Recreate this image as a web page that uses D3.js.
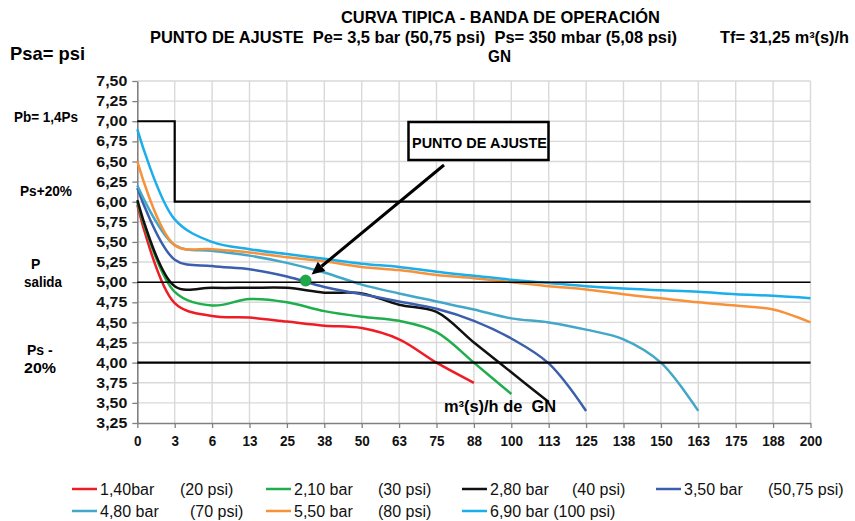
<!DOCTYPE html>
<html>
<head>
<meta charset="utf-8">
<script src="https://cdn.jsdelivr.net/npm/d3@7"></script>
<style>
  html, body { margin: 0; padding: 0; background: #ffffff; }
  svg { display: block; font-family: "Liberation Sans", Arial, sans-serif; }
</style>
</head>
<body>
<svg id="chart" width="855" height="521"></svg>
<script>
// ---------- DATA ----------
const categories = ["0","3","6","13","25","38","50","63","75","88","100","113","125","138","150","163","175","188","200"];
const yTicks = [3.25,3.5,3.75,4.0,4.25,4.5,4.75,5.0,5.25,5.5,5.75,6.0,6.25,6.5,6.75,7.0,7.25,7.5];

const s140 = [5.96,4.74,4.58,4.56,4.51,4.46,4.43,4.29,4.00,3.75];
const s210 = [5.99,4.88,4.71,4.79,4.75,4.64,4.57,4.52,4.38,4.00,3.61];
const s280 = [6.02,4.95,4.93,4.93,4.93,4.87,4.86,4.72,4.63,4.25,3.88,3.51];
const s350 = [6.17,5.28,5.20,5.16,5.07,4.94,4.85,4.76,4.67,4.52,4.30,3.99,3.40];
const s480 = [6.20,5.46,5.39,5.33,5.24,5.12,4.97,4.86,4.76,4.66,4.55,4.50,4.41,4.29,4.00,3.40];
const s550 = [6.50,5.46,5.41,5.37,5.31,5.26,5.19,5.15,5.09,5.05,5.00,4.95,4.91,4.85,4.80,4.75,4.71,4.66,4.50];
const s690 = [6.90,5.78,5.50,5.41,5.35,5.29,5.23,5.19,5.13,5.08,5.03,4.99,4.95,4.92,4.90,4.88,4.85,4.83,4.80];

const seriesNames = ["1,40bar","2,10 bar","2,80 bar","3,50 bar","4,80 bar","5,50 bar","6,90 bar"];
const seriesPsi   = ["(20 psi)","(30 psi)","(40 psi)","(50,75 psi)","(70 psi)","(80 psi)","(100 psi)"];
const seriesValues = [s140, s210, s280, s350, s480, s550, s690];
const seriesColors = ["#ee1c25","#1fae4b","#111111","#3b5ead","#42a7c8","#f7923a","#1aaeea"];

// limit lines
const pbCats = ["0","3","3","200"];
const pbVals = [7.0, 7.0, 6.0, 6.0];
const pSalida = 5.0;
const psMinus = 4.0;

// adjustment point (Tf = 31,25 between "25" and "38")
const adjustFrom = "25", adjustTo = "38", adjustFrac = 0.5, adjustP = 5.02;

// ---------- LAYOUT ----------
const svg = d3.select("#chart");
const xScale = d3.scalePoint().domain(categories).range([137.3, 810.5]);
const yScale = d3.scaleLinear().domain([3.25, 7.5]).range([423, 81]);
const X0 = 137.3, X1 = 810.5, Y0 = 423, Y1 = 81;

// gridlines
const grid = svg.append("g");
grid.selectAll("line.h").data(yTicks.filter(v => v > 3.25)).enter().append("line")
  .attr("x1", X0).attr("x2", X1)
  .attr("y1", d => yScale(d)).attr("y2", d => yScale(d))
  .attr("stroke", "#d9d9d9").attr("stroke-width", 1.4);
grid.selectAll("line.v").data(categories.slice(1)).enter().append("line")
  .attr("x1", d => xScale(d)).attr("x2", d => xScale(d))
  .attr("y1", Y1).attr("y2", Y0)
  .attr("stroke", "#d9d9d9").attr("stroke-width", 1.4);

// axes
const yAxis = d3.axisLeft(yScale).tickValues(yTicks)
  .tickFormat(d => d.toFixed(2).replace(".", ",")).tickSize(5).tickPadding(5).tickSizeOuter(0);
const gy = svg.append("g").attr("transform", `translate(${X0},0)`).call(yAxis);
const xAxis = d3.axisBottom(xScale).tickSize(5).tickPadding(8).tickSizeOuter(0);
const gx = svg.append("g").attr("transform", `translate(0,${Y0})`).call(xAxis);
[gy, gx].forEach(g => {
  g.select(".domain").attr("stroke", "#808080").attr("stroke-width", 1.6);
  g.selectAll(".tick line").attr("stroke", "#808080").attr("stroke-width", 1.3);
  g.selectAll(".tick text").attr("fill", "#111").attr("font-weight", "bold")
    .attr("font-family", "'Liberation Sans', Arial, sans-serif");
});
gy.selectAll(".tick text").attr("font-size", 14.5)
  .attr("textLength", 31).attr("lengthAdjust", "spacingAndGlyphs");
gx.selectAll(".tick text").attr("font-size", 14)
  .each(function(d) {
    const n = String(d).length;
    d3.select(this).attr("textLength", n === 1 ? 7.5 : n === 2 ? 15 : 22.5)
      .attr("lengthAdjust", "spacingAndGlyphs");
  });

// series lines
const line = d3.line()
  .x((d, i) => xScale(categories[i]))
  .y(d => yScale(d))
  .curve(d3.curveCatmullRom.alpha(0.5));
svg.append("g").selectAll("path").data(seriesValues).enter().append("path")
  .attr("d", d => line(d))
  .attr("fill", "none")
  .attr("stroke", (d, i) => seriesColors[i])
  .attr("stroke-width", 2.5)
  .attr("stroke-linejoin", "round");

// limit lines
const stepLine = d3.line().x(d => xScale(d[0])).y(d => yScale(d[1]));
svg.append("path")
  .attr("d", stepLine(pbCats.map((c, i) => [c, pbVals[i]])))
  .attr("fill", "none").attr("stroke", "#000").attr("stroke-width", 2.2);
svg.append("line")
  .attr("x1", xScale(categories[0])).attr("x2", xScale(categories[categories.length - 1]))
  .attr("y1", yScale(pSalida)).attr("y2", yScale(pSalida))
  .attr("stroke", "#000").attr("stroke-width", 1.6);
svg.append("line")
  .attr("x1", xScale(categories[0])).attr("x2", xScale(categories[categories.length - 1]))
  .attr("y1", yScale(psMinus)).attr("y2", yScale(psMinus))
  .attr("stroke", "#000").attr("stroke-width", 2.3);

// adjustment point
const dotX = xScale(adjustFrom) + (xScale(adjustTo) - xScale(adjustFrom)) * adjustFrac;
const dotY = yScale(adjustP);

// arrow annotation
const ax0 = 444, ay0 = 165, ax1 = dotX + 6, ay1 = dotY - 6;
const ang = Math.atan2(ay1 - ay0, ax1 - ax0);
const headL = 13, headW = 6;
const bx = ax1 - headL * Math.cos(ang), by = ay1 - headL * Math.sin(ang);
svg.append("line").attr("x1", ax0).attr("y1", ay0).attr("x2", bx).attr("y2", by)
  .attr("stroke", "#000").attr("stroke-width", 3);
svg.append("path")
  .attr("d", `M${ax1},${ay1} L${bx + headW * Math.sin(ang)},${by - headW * Math.cos(ang)} L${bx - headW * Math.sin(ang)},${by + headW * Math.cos(ang)} Z`)
  .attr("fill", "#000");

svg.append("circle").attr("cx", dotX).attr("cy", dotY).attr("r", 5.5)
  .attr("fill", "#1fa84a").attr("stroke", "#188a3c").attr("stroke-width", 0.8);

// box label
svg.append("rect").attr("x", 408.5).attr("y", 122).attr("width", 140).attr("height", 38)
  .attr("fill", "#fff").attr("stroke", "#000").attr("stroke-width", 2.5);
svg.append("text").attr("x", 412).attr("y", 147.5).attr("font-size", 14.5).attr("font-weight", "bold")
  .attr("textLength", 135).attr("lengthAdjust", "spacingAndGlyphs")
  .text("PUNTO DE AJUSTE");

// axis unit label
svg.append("text").attr("x", 444).attr("y", 411.5).attr("font-size", 16).attr("font-weight", "bold")
  .attr("textLength", 112).attr("lengthAdjust", "spacingAndGlyphs")
  .text("m³(s)/h de  GN").style("white-space", "pre");

// titles
function t(x, y, size, str, len, weight) {
  const el = svg.append("text").attr("x", x).attr("y", y).attr("font-size", size)
    .attr("font-weight", weight || "bold").attr("fill", "#000").style("white-space", "pre").text(str);
  if (len) el.attr("textLength", len).attr("lengthAdjust", "spacingAndGlyphs");
  return el;
}
t(341, 22.5, 17, "CURVA TIPICA - BANDA DE OPERACIÓN", 319);
t(150, 42.5, 17, "PUNTO DE AJUSTE  Pe= 3,5 bar (50,75 psi)  Ps= 350 mbar (5,08 psi)", 527);
t(720, 42.5, 16, "Tf= 31,25 m³(s)/h", 129);
t(488, 61.5, 17, "GN", 23);
t(10, 59.5, 19, "Psa= psi", 75);

// left labels
t(14, 122, 14, "Pb= 1,4Ps", 64);
t(20, 196, 14, "Ps+20%", 52);
t(31, 269, 14, "P");
t(24, 287, 14, "salida", 38);
t(27, 355, 14, "Ps -");
t(24, 373, 14, "20%", 32);

// legend
const legCols = [72, 266, 462, 656];
const legRows = [489, 511];
const psiOffsets = [80, 84, 82, 84, 90, 84, 0];
seriesNames.forEach((name, i) => {
  const col = legCols[i % 4], row = legRows[Math.floor(i / 4)];
  svg.append("line").attr("x1", col).attr("x2", col + 25).attr("y1", row).attr("y2", row)
    .attr("stroke", seriesColors[i]).attr("stroke-width", 2.5);
  const label = i === 6 ? name + " " + seriesPsi[i] : name;
  svg.append("text").attr("x", col + 28).attr("y", row + 6).attr("font-size", 16)
    .attr("fill", "#111").text(label);
  if (i !== 6) {
    svg.append("text").attr("x", col + 28 + psiOffsets[i]).attr("y", row + 6).attr("font-size", 16)
      .attr("fill", "#111").text(seriesPsi[i]);
  }
});
</script>
</body>
</html>
